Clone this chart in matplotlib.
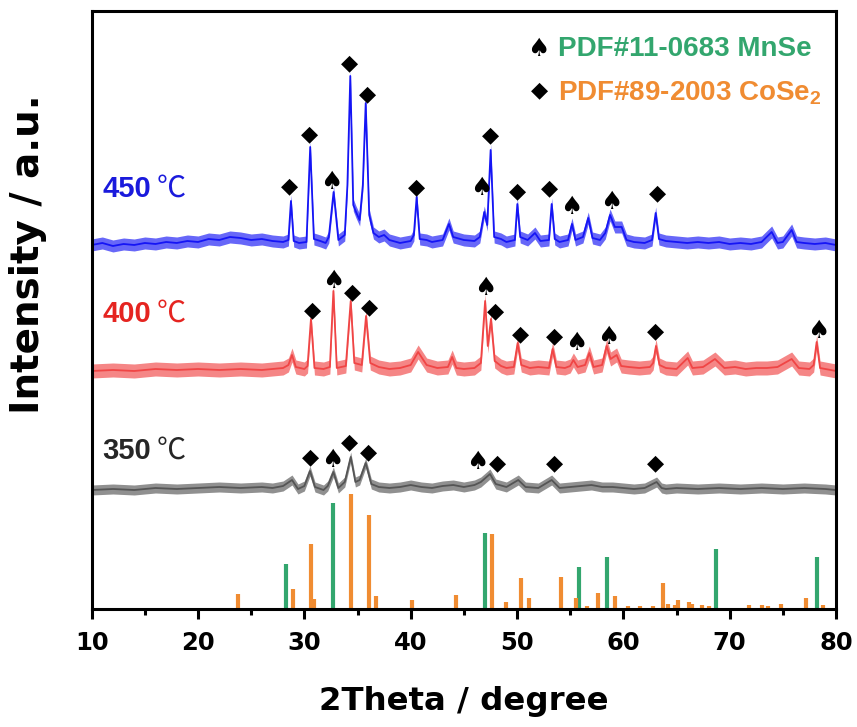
import matplotlib
matplotlib.use("Agg")
import matplotlib.pyplot as plt
import numpy as np

plt.rcParams['mathtext.fontset'] = 'custom'
plt.rcParams['mathtext.rm'] = 'Liberation Sans:bold'
plt.rcParams['mathtext.bf'] = 'Liberation Sans:bold'

# reference sticks (2theta, relative height)
mnse_pos = [28.24, 32.73, 46.99, 55.8, 58.46, 68.68, 78.21]
mnse_h = [45, 106, 76, 42, 52, 60, 52]
cose2_pos = [23.73, 28.96, 30.6, 30.94, 34.42, 36.11, 36.77, 40.09, 44.23, 47.65, 48.96,
             50.35, 51.16, 54.1, 55.55, 56.55, 57.59, 59.19, 60.44, 61.57, 62.76, 63.7,
             64.17, 64.89, 65.11, 66.15, 66.43, 67.4, 68.03, 71.79, 73.04, 73.6, 74.83,
             77.15, 78.75]
cose2_h = [15, 20, 65, 10, 115, 94, 13, 9, 14, 75, 7,
           31, 11, 32, 11, 3, 16, 13, 3, 3, 3, 26,
           5, 4, 9, 7, 5, 4, 3, 4, 4, 3, 5,
           11, 4]

# 450 C pattern
t450_x = [10, 11, 12, 13, 14, 15, 16, 17, 18, 19, 20, 21, 22, 23, 24, 25, 26, 27, 28, 28.5,
          28.74, 29.0, 29.5, 30.2, 30.55, 30.9, 31.5, 32.0, 32.3, 32.75, 33.2, 33.8, 34.05,
          34.32, 34.6, 34.86, 35.2, 35.5, 35.77, 36.1, 36.5, 37, 37.5, 38, 39, 40, 40.3,
          40.56, 40.85, 41.5, 42, 43, 43.6, 44, 45, 46, 46.5, 46.92, 47.2, 47.52, 47.85,
          48.5, 49, 49.8, 50.03, 50.3, 51, 51.69, 52.2, 53, 53.26, 53.55, 54, 54.8, 55.17,
          55.5, 56.2, 56.7, 57.1, 57.8, 58.3, 58.75, 59.2, 59.84, 60.3, 61, 62, 62.7, 63.04,
          63.35, 64, 65, 66, 67, 68, 69, 70, 71, 72, 73, 73.95, 74.5, 75, 75.83, 76.3, 77,
          78, 79, 80]
t450_y = [0, 2, -1, 1, 0, 2, 1, 3, 2, 4, 3, 6, 5, 8, 7, 5, 6, 4, 3, 5,
          44, 4, 2, 3, 98, 6, 4, 2, 8, 53, 5, 10, 60,
          169, 40, 33, 25, 60, 142, 30, 12, 8, 10, 5, 2, 4, 10,
          48, 6, 5, 3, 5, 21, 8, 5, 4, 8, 33, 20, 95, 8,
          6, 3, 5, 41, 8, 5, 12, 4, 5, 41, 6, 3, 5, 21,
          5, 8, 27, 7, 5, 12, 30, 18, 18, 5, 3, 2, 5, 32,
          6, 4, 3, 2, 3, 2, 3, 1, 2, 1, 3, 13, 2, 3, 15, 3, 2,
          1, 2, 0]

# 400 C pattern
t400_x = [10, 12, 14, 16, 18, 20, 22, 24, 26, 27, 28, 28.5, 28.84, 29.2, 30.0, 30.3, 30.62,
          30.95, 31.8, 32.4, 32.73, 33.05, 33.9, 34.36, 34.7, 35.4, 35.8, 36.2, 37, 38, 39,
          40, 40.7, 41.5, 42.5, 43.5, 43.9, 44.3, 45, 46, 46.6, 47.0, 47.25, 47.55, 47.9,
          48.5, 49, 49.7, 50.06, 50.4, 51.2, 52, 53, 53.35, 53.7, 54.5, 55, 55.3, 55.7, 56.4,
          56.8, 57.2, 58, 58.43, 58.8, 59.37, 59.8, 60.5, 61.5, 62.5, 62.8, 63.07, 63.4, 64,
          65, 66.05, 66.5, 67.5, 68.62, 69.5, 70.5, 71.5, 72.5, 73.5, 74.5, 75.83, 76.5, 77.5,
          77.9, 78.18, 78.5, 79, 80]
t400_y = [0, 1, 0, 2, 1, 2, 1, 2, 1, 2, 3, 6, 16, 4, 2, 5, 52,
          3, 2, 4, 80, 3, 5, 70, 8, 6, 55, 8, 4, 2, 3,
          6, 19, 6, 3, 4, 14, 3, 2, 3, 8, 70, 25, 52, 10,
          5, 3, 4, 28, 6, 3, 4, 3, 22, 4, 3, 5, 11, 4, 6,
          18, 4, 6, 25, 12, 16, 5, 4, 3, 4, 8, 25, 6, 3,
          2, 13, 3, 4, 12, 3, 4, 2, 3, 3, 4, 12, 3, 2,
          6, 29, 3, 2, 0]

# 350 C pattern
t350_x = [10, 12, 14, 16, 18, 20, 22, 24, 26, 27, 28, 28.84, 29.4, 30.0, 30.53, 31.0, 31.8,
          32.2, 32.73, 33.2, 33.8, 34.36, 34.8, 35.2, 35.77, 36.3, 37, 38, 39, 40, 41, 42,
          43, 44, 45, 46, 46.6, 47.46, 48, 49, 50.12, 50.8, 52, 53.26, 54, 55, 56, 57, 58,
          59, 60, 61, 62, 63.13, 63.6, 64, 65, 67, 69, 71, 73, 75, 77, 79, 80]
t350_y = [0, 1, 0, 2, 1, 2, 3, 2, 3, 2, 4, 10, 1, 4, 19, 3, 0,
          4, 18, 2, 8, 33, 8, 10, 27, 6, 3, 2, 3, 5, 3, 2,
          4, 5, 3, 5, 8, 16, 6, 3, 10, 3, 2, 10, 2, 3, 4, 5, 3,
          3, 2, 1, 2, 8, 2, 1, 2, 1, 2, 1, 2, 1, 2, 1, 0]

# phase marks above the peaks (2theta, height in plot units)
spade_450 = [(32.57, 427), (46.68, 421), (55.14, 402), (58.84, 407)]
diam_450 = [(28.6, 423), (30.53, 475), (34.29, 546), (35.92, 515), (40.56, 422),
            (47.52, 474), (50.06, 418), (53.1, 421), (63.19, 416)]
spade_400 = [(32.73, 328), (46.99, 321), (55.61, 266), (58.59, 272), (78.33, 278)]
diam_400 = [(30.75, 299), (34.51, 317), (36.08, 302), (47.93, 298), (50.35, 275),
            (53.48, 273), (63.07, 278)]
spade_350 = [(32.63, 149), (46.3, 147)]
diam_350 = [(30.6, 152), (34.29, 167), (36.05, 157), (48.2, 146), (53.48, 146),
            (62.98, 146)]

green = '#33a66e'
orange = '#f08c32'
SPADE = '\u2660'
DIAMOND = '\u25c6'

fig = plt.figure(figsize=(8.57, 7.27), dpi=100)
ax = fig.add_axes([0.107, 0.1623, 0.8685, 0.8226])

ax.vlines(mnse_pos, 0, mnse_h, color=green, linewidth=3)
ax.vlines(cose2_pos, 0, cose2_h, color=orange, linewidth=3)

traces = [(t450_x, t450_y, 364, '#1515f5', 6),
          (t400_x, t400_y, 238, '#f04545', 7),
          (t350_x, t350_y, 119, '#555555', 5)]
for xs, ys, off, col, hw in traces:
    y = np.array(ys) + off
    ax.fill_between(xs, y - hw, y + hw, color=col, alpha=0.65, linewidth=0)
    ax.plot(xs, y, color=col, linewidth=1.3)

marks_all = [(spade_450, SPADE), (diam_450, DIAMOND), (spade_400, SPADE),
             (diam_400, DIAMOND), (spade_350, SPADE), (diam_350, DIAMOND)]
for marks, glyph in marks_all:
    fs = 18 if glyph == SPADE else 16
    for mx, my in marks:
        ax.text(mx, my, glyph, fontsize=fs, ha='center', va='center', color='black',
                family='DejaVu Sans')

for label, yb, col in [('450', 412, '#1a1adc'),
                       ('400', 287, '#e52420'),
                       ('350', 150, '#262626')]:
    ax.text(10.97, yb, label, fontsize=21, fontweight='bold', color=col,
            family='Liberation Sans', va='baseline')
    ax.text(16.1, yb, '\u2103', fontsize=21, color=col,
            family=['Noto Sans CJK SC', 'DejaVu Sans'], va='baseline')

# legend
ax.text(0.600, 0.936, SPADE, transform=ax.transAxes, fontsize=18, ha='center', va='center')
ax.text(0.601, 0.867, DIAMOND, transform=ax.transAxes, fontsize=16, ha='center', va='center')
ax.text(0.6265, 0.9247, 'PDF#11-0683 MnSe', transform=ax.transAxes, fontsize=20,
        fontweight='bold', family='Liberation Sans', color=green, va='baseline')
ax.text(0.6265, 0.851, 'PDF#89-2003 CoSe$_2$', transform=ax.transAxes, fontsize=20,
        fontweight='bold', family='Liberation Sans', color=orange, va='baseline')

ax.set_xlim(10, 80)
ax.set_ylim(0, 598)
ax.set_xticks(np.arange(10, 81, 10))
ax.set_xticks(np.arange(15, 80, 10), minor=True)
ax.set_yticks([])
for sp in ax.spines.values():
    sp.set_linewidth(2.2)
ax.tick_params(axis='x', which='major', direction='out', length=7.5, width=2.2, pad=8,
               labelsize=17.5)
ax.tick_params(axis='x', which='minor', direction='out', length=4.5, width=2.2)
for lb in ax.get_xticklabels():
    lb.set_fontweight('bold')
    lb.set_family('DejaVu Sans')

ax.set_xlabel('2Theta / degree', fontsize=23.3, fontweight='bold', family='DejaVu Sans',
              va='center')
ax.xaxis.set_label_coords(0.5, -0.154)
ax.set_ylabel('Intensity / a.u.', fontsize=28, fontweight='bold', family='DejaVu Sans',
              va='center')
ax.yaxis.set_label_coords(-0.0856, 0.593)

fig.savefig('out.png', dpi=100)
